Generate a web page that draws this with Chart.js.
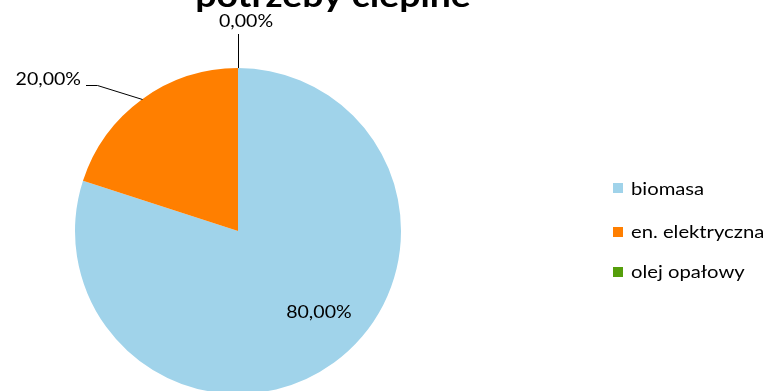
<!DOCTYPE html>
<html>
<head>
<meta charset="utf-8">
<script src="https://cdn.jsdelivr.net/npm/chart.js@4/dist/chart.umd.min.js"></script>
<style>
  html, body { margin: 0; padding: 0; background: #fff; overflow: hidden; }
  #wrap { width: 773px; height: 400px; position: relative; }
</style>
</head>
<body>
<div id="wrap"><canvas id="heatChart"></canvas></div>
<script>
// Udział źródeł ciepła
const categories = ['biomasa', 'en. elektryczna', 'olej opałowy'];
const shares = [80, 20, 0];
const sliceColors = ['#A0D3EA', '#FF7F00', '#559E0B'];
const titleText = 'potrzeby cieplne';

const FONT = 'Lato, "Open Sans", sans-serif';
const STRETCH = 1.15; // text is a bit wider than Lato

function fmtPct(v) {
    return v.toFixed(2).replace('.', ',') + '%';
}

function wideText(ctx, text, x, y) {
    ctx.save();
    ctx.translate(x, y);
    ctx.scale(STRETCH, 1);
    ctx.fillText(text, 0, 0);
    ctx.restore();
}

// Title, data labels with leader lines, and the legend on the right
const decorPlugin = {
    id: 'decor',
    afterDraw(chart) {
        const ctx = chart.ctx;
        const arcs = chart.getDatasetMeta(0).data;
        ctx.save();

        ctx.fillStyle = '#000';
        ctx.font = 'bold 32.5px ' + FONT;
        ctx.textAlign = 'center';
        ctx.textBaseline = 'alphabetic';
        wideText(ctx, titleText, 333, 7);

        ctx.font = '17px ' + FONT;
        ctx.strokeStyle = '#000';
        ctx.lineWidth = 1;

        arcs.forEach((arc, i) => {
            const p = arc.getProps(['x', 'y', 'startAngle', 'endAngle', 'outerRadius']);
            const mid = (p.startAngle + p.endAngle) / 2;
            const label = fmtPct(shares[i]);
            if (i === 0) {
                // inside the slice
                const r = p.outerRadius * 0.7;
                const a = mid - 0.16;
                ctx.textAlign = 'center';
                ctx.textBaseline = 'middle';
                wideText(ctx, label, p.x + r * Math.cos(a), p.y + r * Math.sin(a) + 1);
                return;
            }
            const ex = p.x + p.outerRadius * Math.cos(mid);
            const ey = p.y + p.outerRadius * Math.sin(mid);
            ctx.beginPath();
            if (i === 1) {
                ctx.moveTo(Math.round(ex) + 0.5, Math.round(ey) + 0.5);
                ctx.lineTo(97.5, 85.5);
                ctx.lineTo(86, 85.5);
                ctx.stroke();
                ctx.textAlign = 'right';
                ctx.textBaseline = 'middle';
                wideText(ctx, label, 81, 80);
            } else {
                const x = Math.round(ex) + 0.5;
                ctx.moveTo(x, ey);
                ctx.lineTo(x, 34);
                ctx.stroke();
                ctx.textAlign = 'center';
                ctx.textBaseline = 'middle';
                wideText(ctx, label, 246, 22);
            }
        });

        // legend
        const lx = 613, rows = [188, 231.5, 271.5];
        ctx.font = '17.6px ' + FONT;
        ctx.textAlign = 'left';
        ctx.textBaseline = 'middle';
        categories.forEach((name, i) => {
            ctx.fillStyle = sliceColors[i];
            ctx.fillRect(lx, Math.round(rows[i] - 5), 10, 10);
            ctx.fillStyle = '#000';
            wideText(ctx, name, lx + 18, rows[i] + 1);
        });

        ctx.restore();
    }
};

new Chart(document.getElementById('heatChart'), {
    type: 'pie',
    data: {
        labels: categories,
        datasets: [{
            data: shares,
            backgroundColor: sliceColors,
            borderWidth: 0
        }]
    },
    options: {
        responsive: true,
        maintainAspectRatio: false,
        animation: false,
        layout: { padding: { left: 75, right: 372, top: 68, bottom: 6 } },
        plugins: {
            legend: { display: false },
            title: { display: false },
            tooltip: { enabled: false }
        }
    },
    plugins: [decorPlugin]
});
</script>
</body>
</html>
